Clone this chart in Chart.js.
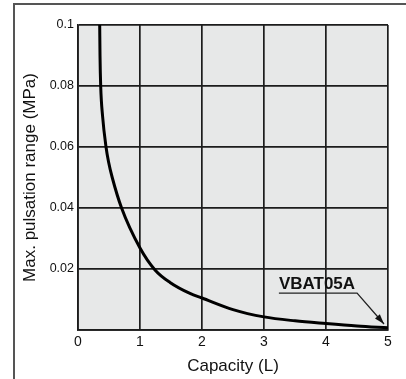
<!DOCTYPE html>
<html>
<head>
<meta charset="utf-8">
<script src="https://cdn.jsdelivr.net/npm/chart.js@4"></script>
<style>
  html, body { margin: 0; padding: 0; background: #fff; }
  .frame { position: relative; width: 406px; height: 379px; }
  .frame::before {
    content: ''; position: absolute; left: 13px; top: 3px; right: 0; bottom: 0;
    border-top: 2px solid #555; border-left: 2px solid #555; pointer-events: none;
  }
  canvas { position: absolute; left: 0; top: 0; }
</style>
</head>
<body>
<div class="frame">
  <canvas id="chart" width="406" height="379"></canvas>
</div>
<script>
// capacity (L) vs. max pulsation range (MPa)
const capacity = [0.350, 0.355, 0.366, 0.397, 0.452, 0.494, 0.552, 0.703, 1.0, 1.242, 1.484, 1.806, 2.0, 2.5, 3.0, 3.5, 4.0, 4.5, 5.0];
const pulsation = [0.1, 0.09, 0.08, 0.07, 0.06, 0.055, 0.05, 0.04, 0.0269, 0.0197, 0.0156, 0.012, 0.0105, 0.0067, 0.0043, 0.003, 0.0021, 0.0013, 0.0007];

const xTicks = [0, 1, 2, 3, 4, 5];
const xTickLabels = ['0', '1', '2', '3', '4', '5'];
const yTicks = [0, 0.02, 0.04, 0.06, 0.08, 0.1];
const yTickLabels = ['', '0.02', '0.04', '0.06', '0.08', '0.1'];

const modelName = 'VBAT05A';
const modelPoint = { x: 5, y: 0 };

const FONT = '"Liberation Sans", Arial, Helvetica, sans-serif';
const gridColor = '#1c1c1c';

const plotBackground = {
  id: 'plotBackground',
  beforeDraw(chart) {
    const { ctx, chartArea: a } = chart;
    ctx.save();
    ctx.fillStyle = '#e7e8e8';
    ctx.fillRect(a.left, a.top, a.right - a.left, a.bottom - a.top);
    ctx.restore();
  }
};

// model label with underline and leader arrow down to the curve end
const modelCallout = {
  id: 'modelCallout',
  afterDatasetsDraw(chart) {
    const { ctx, scales: { x, y } } = chart;
    const tipX = x.getPixelForValue(modelPoint.x) - 4;
    const tipY = y.getPixelForValue(modelPoint.y) - 6;
    const textX = x.getPixelForValue(3.24);
    const lineY = y.getPixelForValue(0.0121);
    ctx.save();
    ctx.font = 'bold 17px ' + FONT;
    ctx.fillStyle = '#111';
    ctx.textBaseline = 'alphabetic';
    ctx.fillText(modelName, textX, lineY - 4);
    const w = ctx.measureText(modelName).width;
    const elbowX = textX + w + 2;
    ctx.strokeStyle = '#222';
    ctx.lineWidth = 1.3;
    ctx.beginPath();
    ctx.moveTo(textX, lineY);
    ctx.lineTo(elbowX, lineY);
    ctx.lineTo(tipX, tipY);
    ctx.stroke();
    const ang = Math.atan2(tipY - lineY, tipX - elbowX);
    const len = 10, half = 3.2;
    ctx.fillStyle = '#111';
    ctx.beginPath();
    ctx.moveTo(tipX, tipY);
    ctx.lineTo(tipX - len * Math.cos(ang) + half * Math.sin(ang), tipY - len * Math.sin(ang) - half * Math.cos(ang));
    ctx.lineTo(tipX - len * Math.cos(ang) - half * Math.sin(ang), tipY - len * Math.sin(ang) + half * Math.cos(ang));
    ctx.closePath();
    ctx.fill();
    ctx.restore();
  }
};

new Chart(document.getElementById('chart'), {
  type: 'scatter',
  data: {
    datasets: [{
      data: capacity.map((c, i) => ({ x: c, y: pulsation[i] })),
      showLine: true,
      borderColor: '#000',
      borderWidth: 3,
      pointRadius: 0,
      cubicInterpolationMode: 'monotone',
      fill: false
    }]
  },
  options: {
    responsive: false,
    animation: false,
    layout: { padding: { left: 0, top: 25, right: 18, bottom: 0 } },
    plugins: { legend: { display: false }, tooltip: { enabled: false } },
    scales: {
      x: {
        type: 'linear',
        min: 0,
        max: 5,
        afterBuildTicks: s => { s.ticks = xTicks.map(v => ({ value: v })); },
        afterFit: s => { s.height = 49; },
        grid: { color: gridColor, lineWidth: 1.7, drawTicks: false },
        border: { color: gridColor, width: 1.7 },
        ticks: {
          padding: 4,
          color: '#111',
          font: { family: FONT, size: 14 },
          callback: (v, i) => xTickLabels[i]
        },
        title: {
          display: true,
          text: 'Capacity (L)',
          color: '#111',
          font: { family: FONT, size: 17 },
          padding: { top: 0, bottom: 2 }
        }
      },
      y: {
        type: 'linear',
        min: 0,
        max: 0.1,
        afterBuildTicks: s => { s.ticks = yTicks.map(v => ({ value: v })); },
        afterFit: s => { s.width = 78; },
        grid: { color: gridColor, lineWidth: 1.7, drawTicks: false },
        border: { color: gridColor, width: 1.7 },
        ticks: {
          padding: 4,
          color: '#111',
          font: { family: FONT, size: 12.5 },
          callback: (v, i) => yTickLabels[i]
        },
        title: {
          display: true,
          text: 'Max. pulsation range (MPa)',
          color: '#111',
          font: { family: FONT, size: 17 },
          padding: { top: 20, bottom: 0 }
        }
      }
    }
  },
  plugins: [plotBackground, modelCallout]
});
</script>
</body>
</html>
